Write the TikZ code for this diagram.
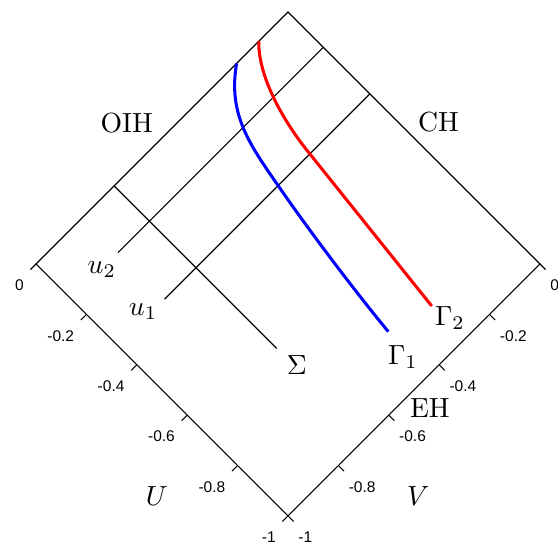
\documentclass[tikz,border=0pt]{standalone}
\usepackage{fontspec}
\newfontfamily\ticksf{Liberation Sans}

\begin{document}
\begin{tikzpicture}[
  x={(-3.2cm,3.2cm)},y={(3.2cm,3.2cm)},
  edge/.style={line width=0.4pt},
  tickmark/.style={line width=0.4pt},
  ticklab/.style={font=\ticksf\fontsize{5.6}{6.5}\selectfont,inner sep=0pt},
  lab/.style={font=\fontsize{10}{12}\selectfont,inner sep=0pt},
  world/.style={line width=1.1pt,#1},
]
  \useasboundingbox (-3.6576cm,0.1524cm) rectangle (3.429cm,-6.731cm);

  \coordinate (top) at (0,0);
  \coordinate (left) at (0,-1);
  \coordinate (bot) at (-1,-1);
  \coordinate (right) at (-1,0);
  \draw[edge] (top) -- (left) -- (bot) -- (right) -- cycle;

  % Axes
  \foreach \t [count=\i] in {0,-0.2,-0.4,-0.6,-0.8,-1} {
    \draw[tickmark] (\t,-1) -- (\t,-1.022);
    \node[ticklab,anchor=north east,xshift=-0.15cm,yshift=-0.195cm] (ut\i) at (\t,-1) {\t};
    \draw[tickmark] (-1,\t) -- (-1.022,\t);
    \node[ticklab,anchor=north west,xshift=0.125cm,yshift=-0.195cm] (vt\i) at (-1,\t) {\t};
  }

  \coordinate (s0) at (0,-0.69);
  \coordinate (s1) at (-0.645,-0.69);
  \coordinate (ua0) at (-0.14,-0.815);
  \coordinate (ua1) at (-0.14,0);
  \coordinate (ub0) at (-0.325,-0.815);
  \coordinate (ub1) at (-0.325,0);
  \draw[edge] (s0) -- (s1);
  \draw[edge] (ua0) -- (ua1);
  \draw[edge] (ub0) -- (ub1);

  % Worldlines
  \coordinate (b0) at (0,-0.204);
  \coordinate (b1) at (-0.334,-0.3657);
  \coordinate (b2) at (-0.8333,-0.4353);
  \coordinate (r0) at (0,-0.116);
  \coordinate (r1) at (-0.3109,-0.2367);
  \coordinate (r2) at (-0.8685,-0.2982);
  \draw[world=blue] (b0) .. controls (-0.085,-0.3245) and (-0.1885,-0.3393) .. (b1)
    .. controls (-0.4857,-0.3933) and (-0.6798,-0.4202) .. (b2);
  \draw[world=red] (r0) .. controls (-0.0754,-0.1944) and (-0.2274,-0.2274) .. (r1) -- (r2);

  \node[lab] (oih) at (0.099,-0.541) {OIH};
  \node[lab] (ch) at (-0.516,0.081) {CH};
  \node[lab] (eh) at (-1.068,-0.505) {EH};
  \node[lab] (ulab) at (-0.701,-1.222) {$U$};
  \node[lab] (vlab) at (-1.22,-0.703) {$V$};
  \node[lab] (u2) at (-0.142,-0.881) {$u_2$};
  \node[lab] (u1) at (-0.307,-0.882) {$u_1$};
  \node[lab] (sig) at (-0.718,-0.683) {$\Sigma$};
  \node[lab] (g1) at (-0.912,-0.456) {$\Gamma_1$};
  \node[lab] (g2) at (-0.929,-0.286) {$\Gamma_2$};
\end{tikzpicture}
\end{document}
